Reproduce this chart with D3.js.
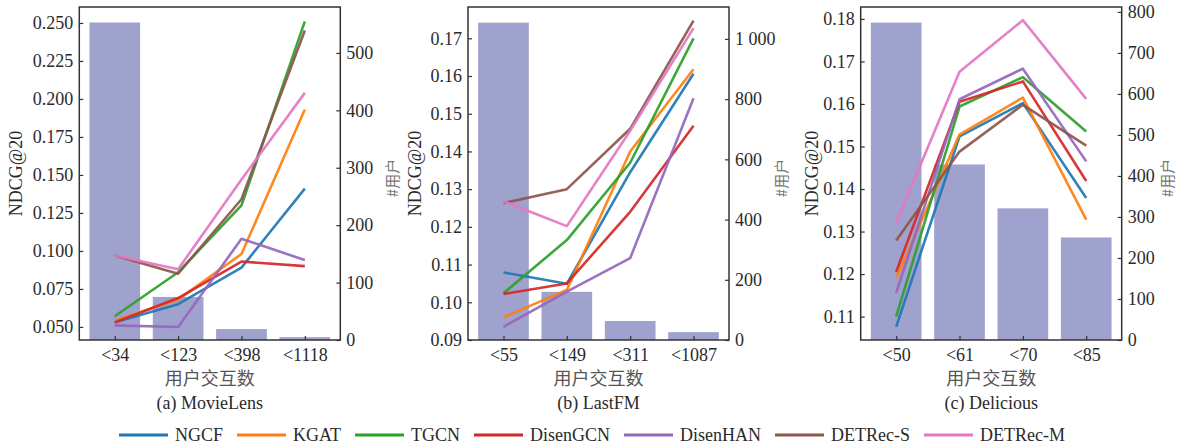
<!DOCTYPE html>
<html>
<head>
<meta charset="utf-8">
<script src="https://cdn.jsdelivr.net/npm/d3@7"></script>
<style>
    body { margin: 0; background: #fff; }
    svg text { font-family: "Liberation Serif", "Times New Roman", serif; }
    .cjk { font-family: "Noto Sans CJK SC", sans-serif !important; }
</style>
</head>
<body>
<svg id="chart" width="1184" height="448"></svg>
<script>
var methods = ["NGCF", "KGAT", "TGCN", "DisenGCN", "DisenHAN", "DETRec-S", "DETRec-M"];

// MovieLens
var catsML = ["<34", "<123", "<398", "<1118"];
var usersML = [553, 75, 19, 5];
var ndcgML = [
    [0.053, 0.065, 0.089, 0.141],
    [0.054, 0.068, 0.098, 0.193],
    [0.057, 0.086, 0.130, 0.251],
    [0.053, 0.069, 0.093, 0.090],
    [0.051, 0.050, 0.108, 0.094],
    [0.097, 0.085, 0.134, 0.245],
    [0.097, 0.088, 0.147, 0.204]
];
var yTicksML = [0.050, 0.075, 0.100, 0.125, 0.150, 0.175, 0.200, 0.225, 0.250];
var uTicksML = [0, 100, 200, 300, 400, 500];

// LastFM
var catsFM = ["<55", "<149", "<311", "<1087"];
var usersFM = [1054, 160, 63, 26];
var ndcgFM = [
    [0.1079, 0.1049, 0.1345, 0.1606],
    [0.0960, 0.1033, 0.1400, 0.1618],
    [0.1024, 0.1165, 0.1370, 0.1700],
    [0.1022, 0.1050, 0.1240, 0.1468],
    [0.0935, 0.1028, 0.1117, 0.1541],
    [0.1263, 0.1300, 0.1460, 0.1747],
    [0.1268, 0.1202, 0.1455, 0.1727]
];
var yTicksFM = [0.09, 0.10, 0.11, 0.12, 0.13, 0.14, 0.15, 0.16, 0.17];
var uTicksFM = [0, 200, 400, 600, 800, 1000];

// Delicious
var catsDL = ["<50", "<61", "<70", "<85"];
var usersDL = [774, 428, 321, 250];
var ndcgDL = [
    [0.1076, 0.1524, 0.1602, 0.1379],
    [0.1190, 0.1528, 0.1615, 0.1328],
    [0.1100, 0.1594, 0.1663, 0.1535],
    [0.1205, 0.1605, 0.1653, 0.1419],
    [0.1156, 0.1611, 0.1683, 0.1465],
    [0.1279, 0.1488, 0.1598, 0.1502],
    [0.1320, 0.1676, 0.1797, 0.1612]
];
var yTicksDL = [0.11, 0.12, 0.13, 0.14, 0.15, 0.16, 0.17, 0.18];
var uTicksDL = [0, 100, 200, 300, 400, 500, 600, 700, 800];

var palette = ["#1f77b4", "#ff7f0e", "#2ca02c", "#d62728", "#9467bd", "#8c564b", "#e377c2"];

var panels = [
    {cats: catsML, users: usersML, ndcg: ndcgML, yTicks: yTicksML, yFmt: ".3f", yDom: [0.0414, 0.2605],
        uTicks: uTicksML, uDom: [0, 580], left: 79.3, yLabDx: -64, uLabDx: 52, caption: "(a) MovieLens"},
    {cats: catsFM, users: usersFM, ndcg: ndcgFM, yTicks: yTicksFM, yFmt: ".2f", yDom: [0.09, 0.1783],
        uTicks: uTicksFM, uDom: [0, 1106], left: 468, yLabDx: -53, uLabDx: 53, caption: "(b) LastFM"},
    {cats: catsDL, users: usersDL, ndcg: ndcgDL, yTicks: yTicksDL, yFmt: ".2f", yDom: [0.1045, 0.1828],
        uTicks: uTicksDL, uDom: [0, 812], left: 860.7, yLabDx: -49, uLabDx: 46, caption: "(c) Delicious"}
];

var W = 261, plotTop = 7, plotBottom = 340;
var svg = d3.select("#chart");

var fmtUsers = function(d) {
    return d >= 1000 ? d3.format(",")(d).replace(",", " ") : d;
};

panels.forEach(function(p) {
    var g = svg.append("g").attr("transform", "translate(" + p.left + ",0)");
    var x = d3.scaleLinear().domain([-0.56, 3.56]).range([0, W]);
    var y = d3.scaleLinear().domain(p.yDom).range([plotBottom, plotTop]);
    var yu = d3.scaleLinear().domain(p.uDom).range([plotBottom, plotTop]);

    // bars (user counts)
    g.selectAll("rect.bar").data(p.users).enter().append("rect")
        .attr("class", "bar")
        .attr("x", function(d, i) { return x(i - 0.4); })
        .attr("width", x(0.8) - x(0))
        .attr("y", function(d) { return yu(d); })
        .attr("height", function(d) { return plotBottom - yu(d); })
        .style("fill", "#9fa2cc");

    // lines
    var line = d3.line().x(function(d, i) { return x(i); }).y(function(d) { return y(d); });
    g.selectAll("path.series").data(p.ndcg).enter().append("path")
        .attr("class", "series")
        .attr("d", line)
        .style("fill", "none")
        .style("stroke", function(d, i) { return palette[i]; })
        .style("stroke-width", 2.6)
        .style("stroke-linejoin", "round")
        .style("opacity", 0.92);

    // axes
    var axL = g.append("g").call(d3.axisLeft(y).tickValues(p.yTicks).tickFormat(d3.format(p.yFmt))
        .tickSizeInner(-4).tickSizeOuter(0).tickPadding(6));
    var axR = g.append("g").attr("transform", "translate(" + W + ",0)")
        .call(d3.axisRight(yu).tickValues(p.uTicks).tickFormat(fmtUsers)
        .tickSizeInner(-4).tickSizeOuter(0).tickPadding(6));
    var axB = g.append("g").attr("transform", "translate(0," + plotBottom + ")")
        .call(d3.axisBottom(x).tickValues([0, 1, 2, 3]).tickFormat(function(i) { return p.cats[i]; })
        .tickSizeInner(-4).tickSizeOuter(0).tickPadding(8));
    [axL, axR, axB].forEach(function(a) {
        a.select(".domain").remove();
        a.selectAll("line").style("stroke", "#333").style("stroke-width", 1.2);
        a.selectAll("text").style("font-size", "18px").style("fill", "#2a2a2a")
            .style("font-family", "Liberation Serif, serif");
    });

    // frame
    g.append("rect").attr("x", 0).attr("y", plotTop).attr("width", W).attr("height", plotBottom - plotTop)
        .style("fill", "none").style("stroke", "#333").style("stroke-width", 1.5);

    // axis titles
    g.append("text")
        .attr("transform", "translate(" + p.yLabDx + "," + ((plotTop + plotBottom) / 2) + ") rotate(-90)")
        .attr("text-anchor", "middle").attr("dy", "0.35em")
        .style("font-size", "18px").style("fill", "#2a2a2a")
        .text("NDCG@20");
    g.append("text").attr("class", "cjk")
        .attr("transform", "translate(" + (W + p.uLabDx) + "," + 178 + ") rotate(-90)")
        .attr("text-anchor", "middle").attr("dy", "0.35em")
        .style("font-size", "15px").style("fill", "#777")
        .text("#用户");
    g.append("text").attr("class", "cjk")
        .attr("x", W / 2).attr("y", 385)
        .attr("text-anchor", "middle")
        .style("font-size", "18px").style("fill", "#555")
        .text("用户交互数");
    g.append("text")
        .attr("x", W / 2).attr("y", 409)
        .attr("text-anchor", "middle")
        .style("font-size", "18px").style("fill", "#2a2a2a")
        .text(p.caption);
});

// legend
var lx = 119, ly = 435;
methods.forEach(function(m, i) {
    svg.append("line").attr("x1", lx).attr("x2", lx + 49).attr("y1", ly).attr("y2", ly)
        .style("stroke", palette[i]).style("stroke-width", 3);
    var t = svg.append("text").attr("x", lx + 56).attr("y", ly).attr("dy", "0.35em")
        .style("font-size", "18px").style("fill", "#2a2a2a").text(m);
    lx = lx + 56 + t.node().getComputedTextLength() + 14;
});
</script>
</body>
</html>
